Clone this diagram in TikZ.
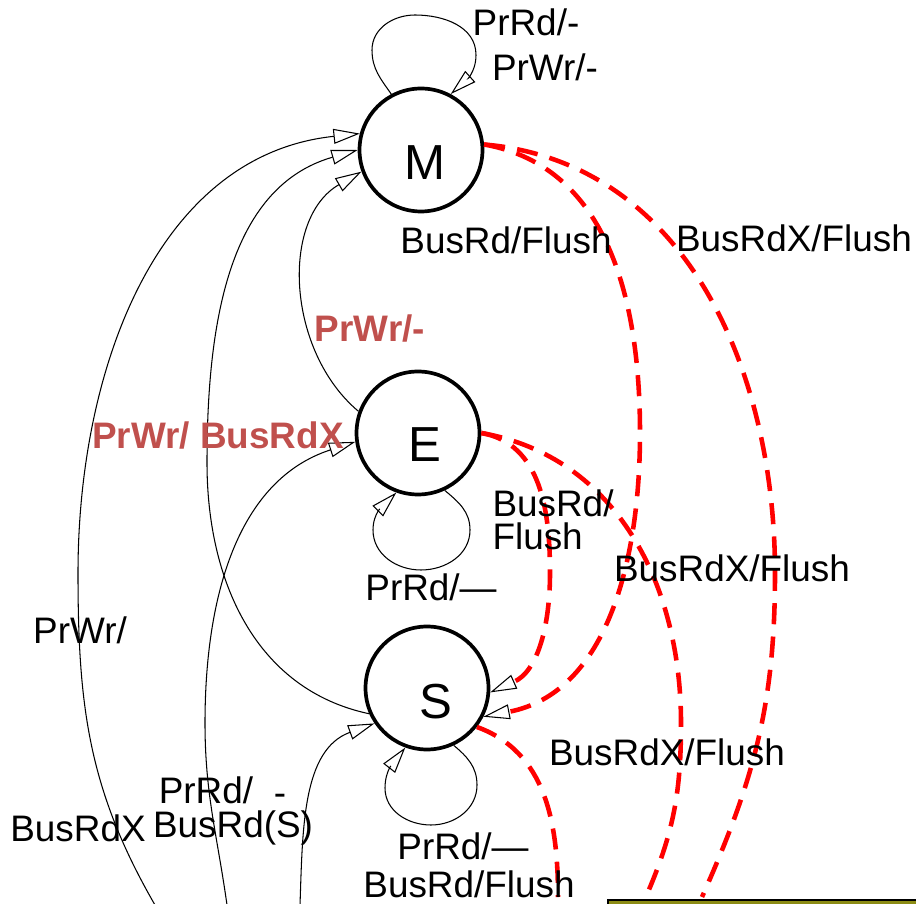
\documentclass[tikz,border=0pt]{standalone}
\usepackage{fontspec}
\setmainfont{Liberation Sans}
\usetikzlibrary{arrows.meta}
\definecolor{lblred}{RGB}{192,80,77}
\definecolor{ibar}{RGB}{140,140,20}

\begin{document}
\begin{tikzpicture}[x = 0.02cm, y = 0.02cm, % one unit = one pixel of the sketch
                > = {Triangle[open, length = 15pt, width = 8.5pt]}, % hollow arrow head
                line width = 0.6pt % line style
            ]

            \tikzstyle{state}=[draw = black, circle, line width = 2.1pt,
            minimum size = 2.46cm, inner sep = 0pt]
            \tikzstyle{statelbl}=[font = \fontsize{28}{30}\selectfont, inner sep = 0pt]
            \tikzstyle{lbl}=[font = \fontsize{21}{24}\selectfont, inner sep = 0pt]
            \tikzstyle{redlbl}=[inner sep = 0pt, text = lblred,
            font = \fontsize{21}{24}\selectfont\bfseries]
            \tikzstyle{flush}=[draw = red, line width = 2.6pt,
            dash pattern = on 12pt off 7pt]
            \tikzstyle{snoop}=[flush, -{Triangle[length = 15pt, width = 8.5pt,
            fill = white, color = black, line width = 0.6pt]}]

            \useasboundingbox (0,0) rectangle (916,903);
            \clip (0,0) rectangle (916,903);

            \node[state, label={[statelbl, xshift=0.08cm, yshift=-0.26cm]center:M}] (M) at (421,753) {};
            \node[state, label={[statelbl, xshift=0.14cm, yshift=-0.24cm]center:E}] (E) at (418,470) {};
            \node[state, label={[statelbl, xshift=0.18cm, yshift=-0.28cm]center:S}] (S) at (427,215) {};
            \node[draw = black, fill = ibar, anchor = north west, minimum width = 8cm,
            minimum height = 1cm, line width = 1pt] (I) at (607,4) {};

            % free ends running off the bottom edge
            \coordinate (Ia) at (155,-2); \coordinate (Ib) at (227,-2);
            \coordinate (Ic) at (300,-2); \coordinate (IS) at (558,6);
            \coordinate (IE) at (648,11); \coordinate (IM) at (702,6);

            % processor side
            \draw[->] (Ia) to[out=120, in=-90] (78,330) to[out=90, in=186] (M.165);
            \draw[->] (S.204) to[out=168, in=-90] (207,440) to[out=90, in=196] (M.180);
            \draw[->] (E.160) to[out=140, in=210] (M.200);
            \draw[->] (Ib) to[out=98, in=-90] (205,180) to[out=90, in=198] (E.188);
            \draw[->] (Ic) to[out=88, in=200] (S.214);

            \draw[->] (M.118) to[out=125, in=-90] (372,853) to[out=90, in=180] (415,888)
            to[out=0, in=90] (476,848) to[out=-90, in=42] (M.62);
            \draw[->] (E.295) to[out=-40, in=90] (470,373) to[out=-90, in=0] (421,333)
            to[out=180, in=-90] (373,373) to[out=90, in=225] (E.250);
            \draw[->] (S.295) to[out=-40, in=90] (477,118) to[out=-90, in=0] (431,78)
            to[out=180, in=-90] (385,115) to[out=90, in=232] (S.250);

            % bus side
            \draw[snoop] (M.5) to[out=-10, in=90] (640,470) to[out=-90, in=11] (S.333);
            \draw[flush] (M.5) to[out=-5, in=90] (775,330) to[out=-90, in=66] (IM);
            \draw[snoop] (E.0) to[out=-10, in=90] (550,330) to[out=-90, in=24] (S.356);
            \draw[flush] (E.0) to[out=-10, in=90] (681,180) to[out=-90, in=67] (IE);
            \draw[flush] (S.322) to[out=-20, in=90] (IS);

            \node[lbl] (mrd) at (526,881) {PrRd/-};
            \node[lbl] (mwr) at (545,836) {PrWr/-};
            \node[lbl] (msrd) at (506,663) {BusRd/Flush};
            \node[lbl] (mirdx) at (794,665) {BusRdX/Flush};
            \node[redlbl] (emwr) at (370,574) {PrWr/-};
            \node[redlbl] (smwr) at (218,467) {PrWr/ BusRdX};
            \node[lbl, anchor = west, align = left, font = \fontsize{21}{19}\selectfont]
            (esrd) at (492,383) {BusRd/\\Flush};
            \node[lbl] (eirdx) at (732,335) {BusRdX/Flush};
            \node[lbl] (erd) at (431,316) {PrRd/—};
            \node[lbl] (imwr) at (80,273) {PrWr/};
            \node[lbl] (sirdx) at (667,151) {BusRdX/Flush};
            \node[lbl] (isrd) at (206,113) {PrRd/};
            \node[lbl] (isbar) at (280,103) {-};
            \node[lbl] (imrdx) at (78,75) {BusRdX};
            \node[lbl] (isbus) at (233,75) {BusRd(S)};
            \node[lbl] (srd) at (463,57) {PrRd/—};
            \node[lbl] (ssrd) at (469,19) {BusRd/Flush};
        \end{tikzpicture}
\end{document}
